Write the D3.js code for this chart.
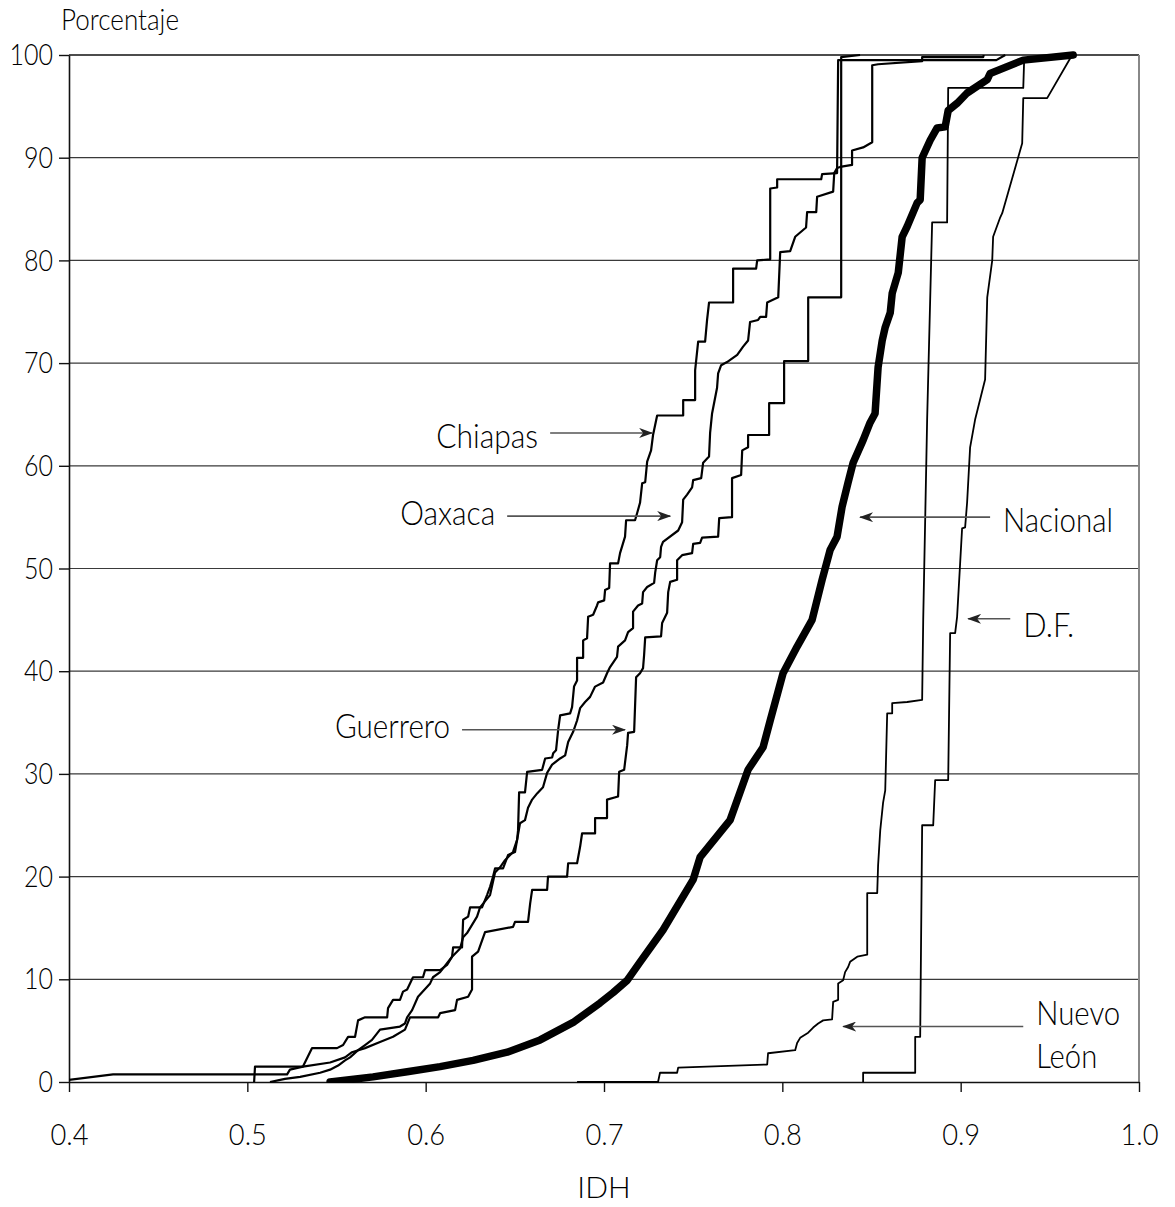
<!DOCTYPE html>
<html><head><meta charset="utf-8">
<script src="https://cdn.jsdelivr.net/npm/d3@7"></script>
<style>
body{margin:0;background:#fff;}
svg text{font-family:Lato,"DejaVu Sans Condensed",sans-serif;font-weight:300;fill:#000;}
</style></head><body>
<svg id="chart" width="1175" height="1207"></svg>
<script>
// ---------- data ----------
const xTicks = [0.4, 0.5, 0.6, 0.7, 0.8, 0.9, 1.0];
const yTicks = [0, 10, 20, 30, 40, 50, 60, 70, 80, 90, 100];
const yTitle = "Porcentaje";
const xTitle = "IDH";

const nacional = [[0.5464,0],[0.5705,0.5],[0.5896,1.0],[0.6081,1.5],[0.6266,2.1],[0.6457,2.9],[0.6642,4.1],[0.6827,5.8],[0.6978,7.7],[0.7051,8.7],[0.7130,9.9],[0.7203,11.7],[0.7331,14.8],[0.7500,19.7],[0.7539,21.9],[0.7707,25.5],[0.7808,30.4],[0.7892,32.6],[0.7932,35.2],[0.8004,39.8],[0.8083,42.4],[0.8167,45.0],[0.8223,48.9],[0.8268,51.8],[0.8307,53.1],[0.8335,56.0],[0.8369,58.4],[0.8397,60.3],[0.8453,62.5],[0.8492,64.2],[0.8520,65.1],[0.8537,69.6],[0.8560,72.2],[0.8577,73.5],[0.8605,74.9],[0.8616,76.8],[0.8650,78.8],[0.8672,82.3],[0.8700,83.3],[0.8756,85.6],[0.8773,85.9],[0.8784,90.0],[0.8829,91.7],[0.8868,92.9],[0.8913,93.0],[0.8930,94.6],[0.8980,95.3],[0.9036,96.3],[0.9149,97.6],[0.9165,98.2],[0.9351,99.5],[0.9631,100]];

const chiapas = [[0.5038,0],[0.5043,1.5],[0.5312,1.5],[0.5363,3.3],[0.5503,3.3],[0.5537,3.6],[0.5565,4.4],[0.5604,4.4],[0.5621,6.0],[0.5660,6.3],[0.5784,6.3],[0.5789,7.2],[0.5817,8.0],[0.5856,8.0],[0.5873,8.8],[0.5896,9.0],[0.5929,10.2],[0.5985,10.2],[0.5997,10.9],[0.6081,10.9],[0.6120,11.4],[0.6148,12.2],[0.6154,13.1],[0.6204,13.1],[0.6210,15.8],[0.6238,16.1],[0.6249,17.0],[0.6316,17.0],[0.6344,18.2],[0.6361,19.0],[0.6378,20.0],[0.6389,20.8],[0.6434,20.8],[0.6462,22.1],[0.6501,22.4],[0.6513,23.6],[0.6518,24.5],[0.6524,28.2],[0.6557,28.2],[0.6569,30.2],[0.6653,30.4],[0.6670,31.5],[0.6709,31.6],[0.6715,32.0],[0.6731,32.3],[0.6743,34.3],[0.6754,35.7],[0.6810,35.9],[0.6821,36.5],[0.6832,38.5],[0.6849,39.1],[0.6849,41.3],[0.6883,41.3],[0.6883,43.0],[0.6905,43.2],[0.6911,45.3],[0.6939,45.5],[0.6961,46.4],[0.6967,46.7],[0.7001,46.9],[0.7006,47.9],[0.7029,48.1],[0.7034,50.5],[0.7079,50.5],[0.7090,51.5],[0.7118,53.1],[0.7124,54.7],[0.7174,54.7],[0.7186,55.4],[0.7202,56.4],[0.7214,58.3],[0.7231,58.4],[0.7242,60.4],[0.7264,61.5],[0.7275,63.0],[0.7298,64.9],[0.7444,64.9],[0.7444,66.4],[0.7511,66.4],[0.7511,69.3],[0.7528,72.1],[0.7567,72.1],[0.7578,74.2],[0.7589,75.9],[0.7724,75.9],[0.7724,79.2],[0.7853,79.2],[0.7859,80.0],[0.7932,80.1],[0.7932,87.0],[0.7971,87.1],[0.7971,87.9],[0.8218,87.9],[0.8223,88.4],[0.8307,88.5],[0.8313,99.5],[0.9200,99.5],[0.9250,100]];

const oaxaca = [[0.5127,0],[0.5211,0.3],[0.5296,0.5],[0.5408,0.9],[0.5464,1.2],[0.5509,1.6],[0.5548,2.1],[0.5576,2.4],[0.5621,3.1],[0.5660,3.6],[0.5699,4.1],[0.5744,5.1],[0.5856,5.4],[0.5884,5.7],[0.5896,6.3],[0.5924,7.0],[0.5957,8.3],[0.6025,9.6],[0.6041,10.2],[0.6081,10.7],[0.6148,12.2],[0.6193,13.0],[0.6210,14.1],[0.6232,14.5],[0.6288,16.1],[0.6305,17.0],[0.6361,18.2],[0.6389,20.4],[0.6417,20.9],[0.6445,21.6],[0.6490,22.4],[0.6513,23.6],[0.6529,25.2],[0.6557,25.5],[0.6574,26.7],[0.6597,27.5],[0.6625,28.1],[0.6658,28.7],[0.6681,30.1],[0.6709,30.9],[0.6754,31.5],[0.6782,31.8],[0.6799,33.1],[0.6827,34.1],[0.6849,35.2],[0.6866,36.4],[0.6894,37.0],[0.6922,37.5],[0.6950,38.5],[0.6995,38.9],[0.7017,39.8],[0.7034,40.4],[0.7073,41.4],[0.7079,42.4],[0.7118,43.0],[0.7135,43.8],[0.7163,44.2],[0.7163,45.8],[0.7191,46.4],[0.7214,46.6],[0.7219,47.7],[0.7242,48.2],[0.7281,48.6],[0.7287,49.6],[0.7298,50.8],[0.7315,51.1],[0.7320,52.1],[0.7331,52.6],[0.7416,53.7],[0.7438,54.5],[0.7444,56.7],[0.7466,57.2],[0.7494,57.9],[0.7500,58.6],[0.7545,58.8],[0.7556,60.3],[0.7589,60.9],[0.7595,63.2],[0.7606,65.1],[0.7634,67.6],[0.7640,69.0],[0.7657,69.8],[0.7690,70.1],[0.7747,70.8],[0.7780,71.6],[0.7808,72.2],[0.7819,74.0],[0.7864,74.2],[0.7876,74.5],[0.7909,74.5],[0.7915,75.9],[0.7977,76.4],[0.7988,80.8],[0.8044,80.9],[0.8072,82.3],[0.8133,83.2],[0.8139,84.7],[0.8190,84.7],[0.8195,86.2],[0.8285,86.7],[0.8291,88.5],[0.8307,89.0],[0.8324,89.1],[0.8391,89.3],[0.8391,90.7],[0.8453,91.0],[0.8504,91.5],[0.8504,99.0],[0.8537,99.1],[0.8784,99.4],[0.8784,99.8],[0.9126,99.8],[0.9130,100]];

const guerrero = [[0.3900,0],[0.4247,0.75],[0.5223,0.75],[0.5239,1.2],[0.5312,1.5],[0.5464,1.9],[0.5548,2.4],[0.5587,2.9],[0.5660,3.3],[0.5744,3.9],[0.5817,4.4],[0.5884,5.1],[0.5912,6.3],[0.6070,6.3],[0.6081,6.7],[0.6165,7.0],[0.6176,8.0],[0.6238,8.3],[0.6260,9.0],[0.6260,12.2],[0.6294,12.7],[0.6333,14.6],[0.6490,15.1],[0.6501,15.6],[0.6574,15.6],[0.6586,17.4],[0.6597,18.7],[0.6681,18.7],[0.6686,20.0],[0.6793,20.0],[0.6799,21.3],[0.6849,21.3],[0.6866,22.9],[0.6877,24.2],[0.6950,24.2],[0.6950,25.7],[0.7017,25.7],[0.7017,27.5],[0.7079,27.8],[0.7085,30.2],[0.7113,30.4],[0.7130,32.8],[0.7135,34.0],[0.7169,34.1],[0.7180,39.4],[0.7202,39.8],[0.7219,40.3],[0.7225,41.6],[0.7231,43.3],[0.7320,43.4],[0.7326,44.7],[0.7354,45.7],[0.7360,47.7],[0.7371,48.7],[0.7410,48.9],[0.7410,50.8],[0.7438,51.3],[0.7494,51.5],[0.7500,52.4],[0.7539,52.5],[0.7550,53.0],[0.7640,53.1],[0.7646,54.9],[0.7718,55.0],[0.7718,58.8],[0.7769,59.1],[0.7775,61.5],[0.7808,61.8],[0.7808,63.0],[0.7926,63.0],[0.7926,66.1],[0.8010,66.1],[0.8010,70.2],[0.8145,70.2],[0.8145,76.4],[0.8330,76.4],[0.8330,99.8],[0.8436,100]];

const nuevoLeon = [[0.6849,0],[0.7303,0],[0.7314,0.9],[0.7410,0.9],[0.7416,1.4],[0.7915,1.7],[0.7920,2.8],[0.8072,3.1],[0.8083,3.8],[0.8100,4.3],[0.8145,4.8],[0.8173,5.3],[0.8201,5.7],[0.8229,6.0],[0.8279,6.1],[0.8285,7.8],[0.8313,8.0],[0.8313,9.6],[0.8341,9.9],[0.8352,10.7],[0.8369,11.2],[0.8380,11.7],[0.8420,12.2],[0.8476,12.4],[0.8476,18.4],[0.8532,18.4],[0.8537,21.1],[0.8549,24.5],[0.8565,27.2],[0.8577,28.4],[0.8588,35.9],[0.8616,35.9],[0.8616,36.9],[0.8700,37.0],[0.8784,37.2],[0.8790,45.0],[0.8812,64.5],[0.8840,83.7],[0.8924,83.7],[0.8930,96.8],[0.9351,96.8],[0.9356,99.5],[0.9550,100]];

const df = [[0.8453,0],[0.8453,0.9],[0.8745,0.9],[0.8745,4.4],[0.8773,4.4],[0.8784,25.0],[0.8846,25.0],[0.8857,29.4],[0.8930,29.4],[0.8941,43.7],[0.8969,43.7],[0.8980,45.3],[0.8997,50.5],[0.9008,53.9],[0.9025,54.0],[0.9036,56.4],[0.9053,61.8],[0.9081,64.5],[0.9137,68.4],[0.9149,76.4],[0.9177,80.0],[0.9182,82.3],[0.9222,84.2],[0.9233,84.6],[0.9345,91.4],[0.9351,95.8],[0.9485,95.8],[0.9625,100]];

// label names and arrow endpoints (data space)
const labelNames = ["Chiapas", "Oaxaca", "Guerrero", "Nacional", "D.F.", "Nuevo|León"];
const arrowFrom = [[0.6698,63.2],[0.6457,55.1],[0.6204,34.3],[0.9165,55.0],[0.9278,45.1],[0.9351,5.4]];
const arrowTo   = [[0.7270,63.2],[0.7371,55.1],[0.7118,34.3],[0.8436,55.0],[0.9042,45.1],[0.8341,5.4]];

// ---------- layout ----------
const M = {l:69, r:1139, t:55, b:1082};
const x = d3.scaleLinear().domain([0.4, 1.0]).range([M.l, M.r]);
const y = d3.scaleLinear().domain([0, 100]).range([M.b, M.t]);
const svg = d3.select("#chart");
const defs = svg.append("defs");
defs.append("clipPath").attr("id","clip").append("rect")
  .attr("x", M.l).attr("y", M.t-5).attr("width", M.r-M.l).attr("height", M.b-M.t+6);
defs.append("marker").attr("id","arr").attr("viewBox","0 0 14 10").attr("refX",13).attr("refY",5)
  .attr("markerWidth",14).attr("markerHeight",10).attr("markerUnits","userSpaceOnUse").attr("orient","auto")
  .append("path").attr("d","M0,0 L14,5 L0,10 L4,5 Z").attr("fill","#222");

// gridlines
svg.append("g").selectAll("line").data(yTicks.filter(d => d > 0 && d < 100)).join("line")
  .attr("x1", M.l).attr("x2", M.r).attr("y1", d => y(d)).attr("y2", d => y(d))
  .attr("stroke", "#3a3a3a").attr("stroke-width", 1.2);
svg.append("line").attr("x1", M.l).attr("x2", M.r).attr("y1", y(100)).attr("y2", y(100)).attr("stroke","#111").attr("stroke-width",1.6);
svg.append("line").attr("x1", M.r).attr("x2", M.r).attr("y1", y(100)).attr("y2", y(0)).attr("stroke","#888").attr("stroke-width",2);

// axes
const fs = 30;
const labW = s => s.split("").reduce((a, c) => a + (c === "." ? 9 : 14.5), 0);
const gy = svg.append("g").attr("transform", `translate(${M.l},0)`)
  .call(d3.axisLeft(y).tickValues(yTicks).tickSize(10).tickSizeOuter(0).tickPadding(6).tickFormat(d3.format("d")));
const gx = svg.append("g").attr("transform", `translate(0,${M.b})`)
  .call(d3.axisBottom(x).tickValues(xTicks).tickSize(10).tickSizeOuter(0).tickPadding(32).tickFormat(d3.format(".1f")));
[gy, gx].forEach(g => {
  g.select(".domain").attr("stroke","#111").attr("stroke-width",1.6);
  g.selectAll(".tick line").attr("stroke","#111").attr("stroke-width",1.4);
  g.selectAll(".tick text").attr("font-size", fs).attr("fill","#000")
   .style("font-family", 'Lato,"DejaVu Sans Condensed",sans-serif').style("font-weight", 300)
   .attr("textLength", function() { return labW(this.textContent); })
   .attr("lengthAdjust", "spacingAndGlyphs");
});

// titles
svg.append("text").attr("x", 61).attr("y", 30).attr("font-size", 30).attr("fill","#000").text(yTitle)
  .attr("textLength", 118).attr("lengthAdjust","spacingAndGlyphs");
svg.append("text").attr("x", x(0.7)).attr("y", 1198).attr("text-anchor","middle").attr("font-size", fs)
  .attr("fill","#000").text(xTitle);

// series
const line = d3.line().x(d => x(d[0])).y(d => y(d[1]));
const plot = svg.append("g").attr("clip-path","url(#clip)");
plot.selectAll("path.st").data([chiapas, oaxaca, guerrero]).join("path").attr("class","st")
  .attr("d", line).attr("fill","none").attr("stroke","#000").attr("stroke-width",2.2).attr("stroke-linejoin","round");
plot.selectAll("path.st2").data([nuevoLeon, df]).join("path").attr("class","st2")
  .attr("d", line).attr("fill","none").attr("stroke","#000").attr("stroke-width",1.8).attr("stroke-linejoin","round");
plot.append("path").datum(nacional).attr("d", line).attr("fill","none").attr("stroke","#000")
  .attr("stroke-width",7.5).attr("stroke-linejoin","round").attr("stroke-linecap","round");

// annotations
const afs = 34;
const widths = [102, 95, 115, 110, 51, [84, 61]];
const baseOff = [15, 9, 8, 15, 18, -2];
labelNames.forEach((name, i) => {
  const [fx, fy] = arrowFrom[i], [tx, ty] = arrowTo[i];
  svg.append("line").attr("x1", x(fx)).attr("y1", y(fy)).attr("x2", x(tx)).attr("y2", y(ty))
    .attr("stroke","#555").attr("stroke-width",1.6).attr("marker-end","url(#arr)");
  const leftSide = fx < tx;
  const anchor = leftSide ? "end" : "start";
  const gap = leftSide ? -12 : 13;
  name.split("|").forEach((p, j) => {
    const w = Array.isArray(widths[i]) ? widths[i][j] : widths[i];
    svg.append("text").attr("x", x(fx) + gap).attr("y", y(fy) + baseOff[i] + j*43)
      .attr("text-anchor", anchor).attr("font-size", afs).attr("fill","#000").text(p)
      .attr("textLength", w).attr("lengthAdjust","spacingAndGlyphs");
  });
});
</script>
</body></html>
